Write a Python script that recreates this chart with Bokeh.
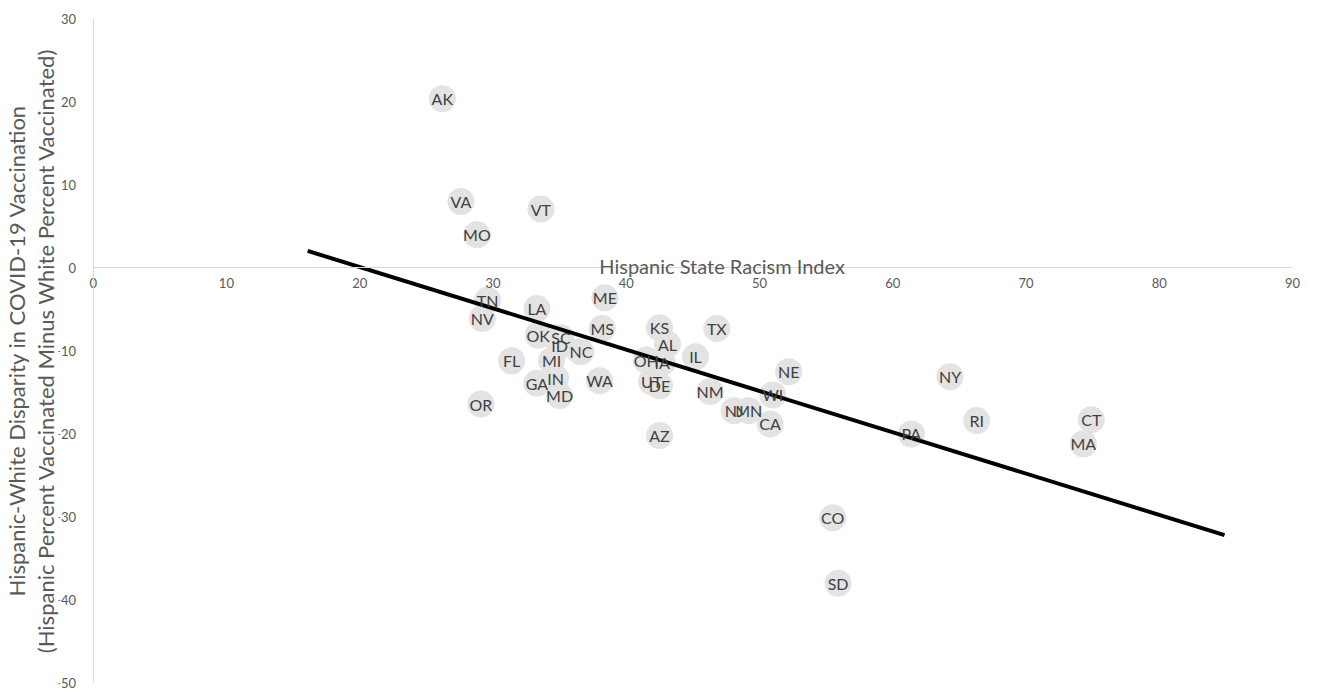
from bokeh.plotting import figure
from bokeh.models import Range1d, Title, Label, ColumnDataSource, FixedTicker
from bokeh.core.properties import value
from bokeh.embed import file_html
from bokeh.resources import INLINE

states = ["AK", "VA", "VT", "MO", "TN", "LA", "ME", "NV", "OK", "SC", "ID", "MS",
          "KS", "TX", "AL", "NC", "FL", "MI", "OH", "IA", "IL", "NE", "NY", "GA",
          "IN", "WA", "UT", "DE", "NM", "WI", "MD", "OR", "NJ", "MN", "CA", "RI",
          "CT", "PA", "MA", "AZ", "CO", "SD"]
racism_index = [26.2, 27.6, 33.6, 28.8, 29.6, 33.3, 38.4, 29.2, 33.4, 35.1, 35.0, 38.2,
                42.5, 46.8, 43.1, 36.6, 31.4, 34.4, 41.5, 42.7, 45.2, 52.2, 64.3, 33.3,
                34.7, 38.0, 41.9, 42.5, 46.3, 51.0, 35.0, 29.1, 48.1, 49.2, 50.8, 66.3,
                74.9, 61.4, 74.3, 42.5, 55.5, 55.9]
disparity = [20.4, 8.0, 7.1, 4.0, -3.9, -4.9, -3.6, -6.1, -8.1, -8.4, -9.4, -7.3,
             -7.2, -7.3, -9.2, -10.1, -11.2, -11.2, -11.1, -11.4, -10.7, -12.5, -13.1, -13.9,
             -13.3, -13.6, -13.7, -14.2, -14.9, -15.3, -15.4, -16.4, -17.2, -17.2, -18.8, -18.4,
             -18.3, -20.0, -21.2, -20.2, -30.1, -38.0]
trend_x = [16.1, 84.9]
trend_y = [2.05, -32.2]
x_ticks = [0, 10, 20, 30, 40, 50, 60, 70, 80, 90]
y_ticks = [-50, -40, -30, -20, -10, 0, 10, 20, 30]

FONT = "Lato"
GREY = "#595959"

src = ColumnDataSource(dict(x=racism_index, y=disparity, s=states))

# ranges padded so the tick labels drawn on the origin-crossing axes stay inside the frame
p = figure(width=1304, height=690, x_range=Range1d(-2.6, 90.9), y_range=Range1d(-50.8, 30.9),
           output_backend="svg", toolbar_location=None,
           min_border_left=49, min_border_right=0, min_border_top=11, min_border_bottom=1)
p.outline_line_color = None
p.grid.visible = False

# axes crossing at the origin
p.xaxis.fixed_location = 0
p.yaxis.fixed_location = 0
p.xaxis.bounds = (x_ticks[0], x_ticks[-1])
p.yaxis.bounds = (y_ticks[0], y_ticks[-1])
for ax in (p.xaxis, p.yaxis):
    ax.major_tick_line_color = None
    ax.minor_tick_line_color = None
    ax.axis_line_color = "#d9d9d9"
    ax.axis_line_width = 1
    ax.major_label_text_color = GREY
    ax.major_label_text_font = FONT
    ax.major_label_text_font_size = "13px"
p.xaxis.ticker = FixedTicker(ticks=x_ticks)
p.yaxis.ticker = FixedTicker(ticks=y_ticks)
p.xaxis.major_label_standoff = 4
p.yaxis.major_label_standoff = 11

# y-axis title (two lines)
p.add_layout(Title(text="(Hispanic Percent Vaccinated Minus White Percent Vaccinated)",
                   align="center", text_font=FONT, text_font_size="22px",
                   text_font_style="normal", text_color=GREY, standoff=0, offset=0), "left")
p.add_layout(Title(text="Hispanic-White Disparity in COVID-19 Vaccination",
                   align="center", text_font=FONT, text_font_size="22px",
                   text_font_style="normal", text_color=GREY, standoff=0, offset=0), "left")

# x-axis title above the zero line
p.add_layout(Label(x=47.2, y=0, y_offset=2, text="Hispanic State Racism Index",
                   text_align="center", text_baseline="alphabetic", text_font=FONT,
                   text_font_size="20px", text_color=GREY))

p.scatter("x", "y", source=src, size=27, fill_color="#e3e3e3", line_color=None)
p.line(trend_x, trend_y, line_width=4, line_color="black")
p.text("x", "y", text="s", source=src, text_align="center", text_baseline="middle",
       text_font=value(FONT), text_font_size="16px", text_color="#404040")

open("out.html", "w").write(file_html(p, INLINE))
